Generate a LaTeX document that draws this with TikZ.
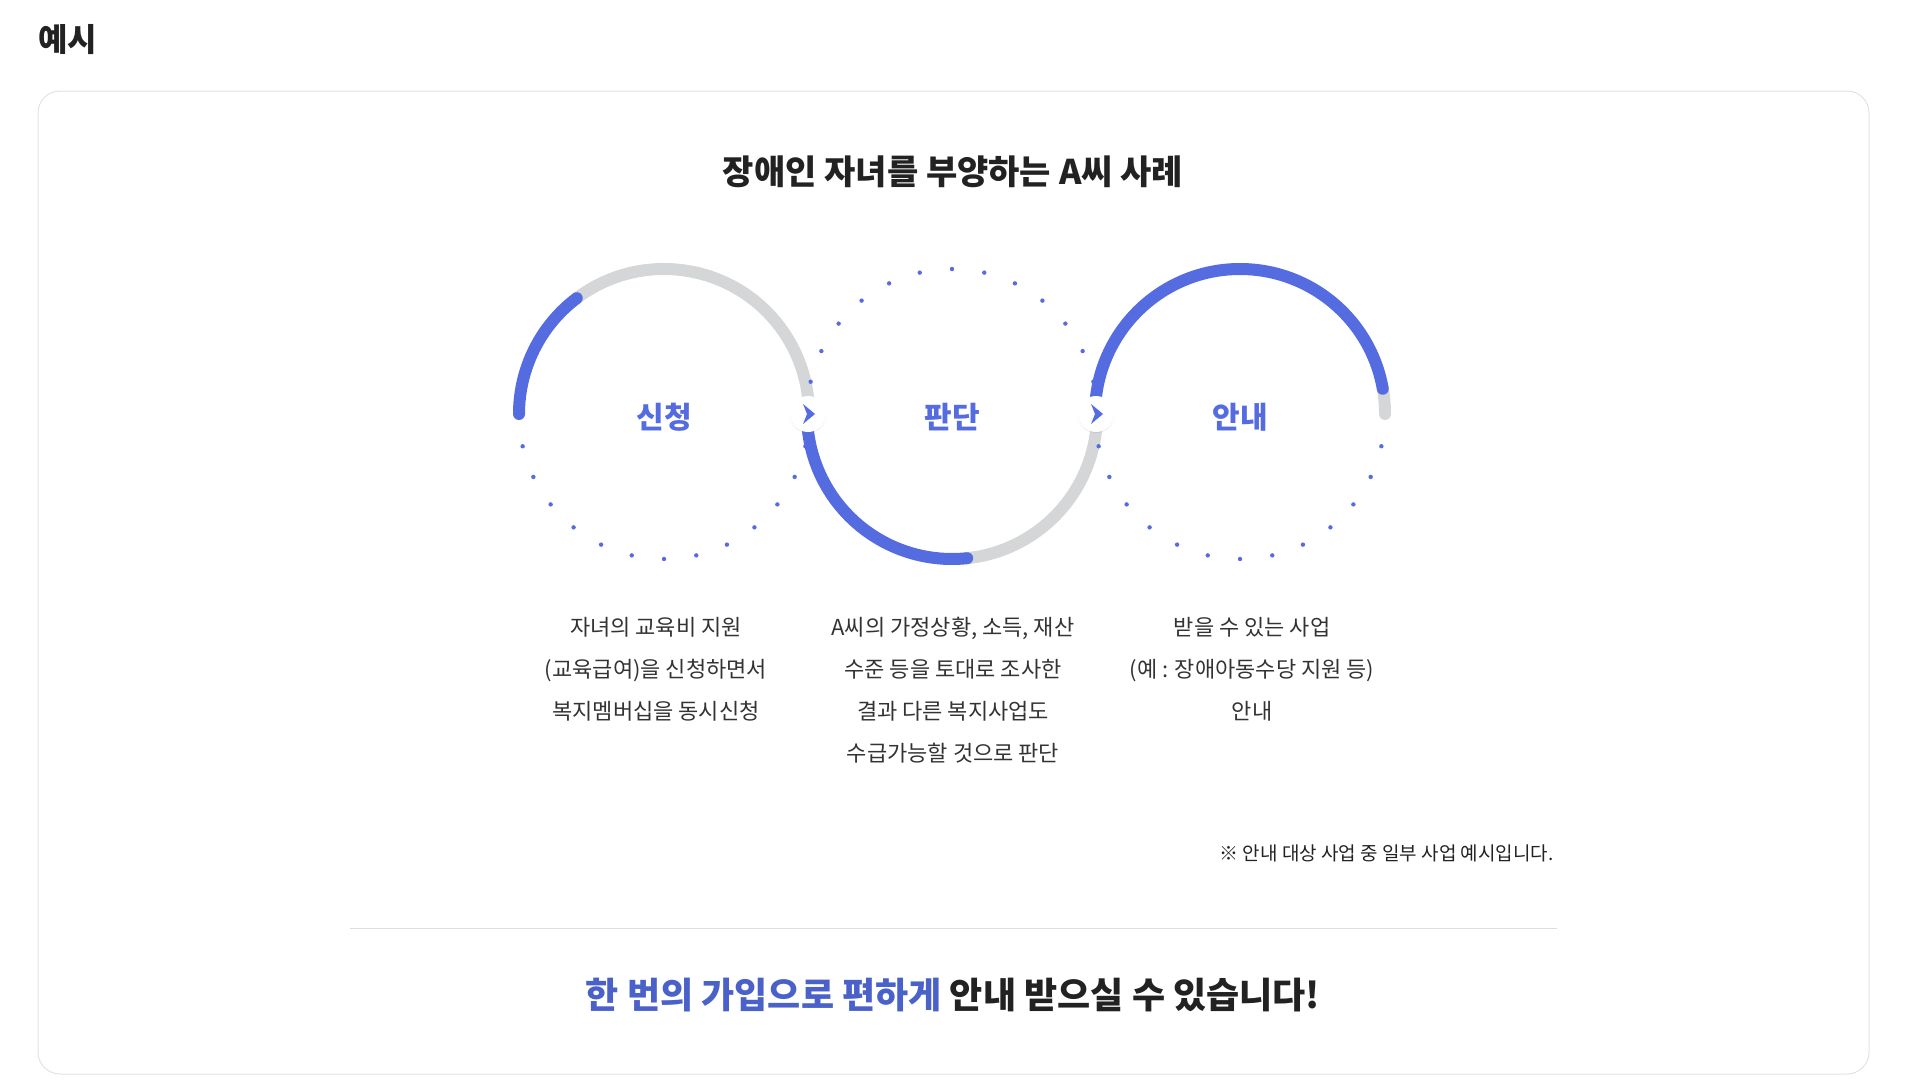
\documentclass[tikz,border=0pt]{standalone}
\usepackage{fontspec}
\setmainfont{Noto Sans CJK KR}
\usetikzlibrary{shadows}
\definecolor{blu}{RGB}{84,108,224}
\definecolor{gry}{RGB}{213,214,216}
\definecolor{txt}{RGB}{51,51,51}
\definecolor{hd}{RGB}{34,34,34}
\tikzset{
  prog/.style={line width=12pt,line cap=round,blu},
  rest/.style={line width=12pt,line cap=round,gry},
  lbl/.style={font=\fontsize{30}{36}\selectfont\bfseries,text=blu},
  desc/.style={font=\fontsize{22}{42}\selectfont,text=txt,align=center,anchor=north},
  badge/.style={circle,fill=white,minimum size=36pt,inner sep=0pt,drop shadow={opacity=0.15,shadow xshift=0pt,shadow yshift=-1pt}},
}
\newcommand{\dotsarc}[3]{\foreach \k in {1,...,13}{\fill[blu] ($(#1)+({#2+\k*12.857*#3}:145)$) circle (2.2pt);}}
\usetikzlibrary{calc}
\begin{document}
\begin{tikzpicture}[x=1pt,y=-1pt]
\useasboundingbox (0,0) rectangle (1912,1081);
\node[font=\fontsize{32}{38}\selectfont\bfseries,text=hd] (t) at (68,40) {예시};
\draw[gry!70,line width=1pt,rounded corners=22pt] (38,91) rectangle (1869,1074);
\node[font=\fontsize{34}{40}\selectfont\bfseries,text=hd] (h) at (953,172) {장애인 자녀를 부양하는 A씨 사례};
\coordinate (c1) at (664,414);
\coordinate (c2) at (952,414);
\coordinate (c3) at (1240,414);
% circle 1
\draw[rest] (c1) ++(233:145) arc (233:360:145);
\draw[prog] (c1) ++(180:145) arc (180:233:145);
\foreach \k in {1,...,13}{\fill[blu] ($(c1)+({\k*12.857}:145)$) circle (2.2pt);}
% circle 2
\draw[rest] (c2) ++(84:145) arc (84:0:145);
\draw[prog] (c2) ++(180:145) arc (180:84:145);
\foreach \k in {1,...,13}{\fill[blu] ($(c2)+({180+\k*12.857}:145)$) circle (2.2pt);}
% circle 3
\draw[rest] (c3) ++(350:145) arc (350:360:145);
\draw[prog] (c3) ++(180:145) arc (180:350:145);
\foreach \k in {1,...,13}{\fill[blu] ($(c3)+({\k*12.857}:145)$) circle (2.2pt);}
% badges
\node[badge] (b1) at (808,414) {};
\node[badge] (b2) at (1096,414) {};
\foreach \b in {b1,b2}{\fill[blu] ($(\b)+(-5,-10)$) -- ($(\b)+(7,0)$) -- ($(\b)+(-5,10)$) -- ($(\b)+(-1,0)$) -- cycle;}
\node[lbl] (l1) at (c1) [yshift=-3pt] {신청};
\node[lbl] (l2) at (c2) [yshift=-3pt] {판단};
\node[lbl] (l3) at (c3) [yshift=-3pt] {안내};
\node[desc] (d1) at (656,614) {자녀의 교육비 지원\\(교육급여)을 신청하면서\\복지멤버십을 동시신청};
\node[desc] (d2) at (953,614) {A씨의 가정상황, 소득, 재산\\수준 등을 토대로 조사한\\결과 다른 복지사업도\\수급가능할 것으로 판단};
\node[desc] (d3) at (1252,614) {받을 수 있는 사업\\(예 : 장애아동수당 지원 등)\\안내};
\node[font=\fontsize{19}{24}\selectfont,text=hd,anchor=east] (n) at (1557,853) {※ 안내 대상 사업 중 일부 사업 예시입니다.};
\draw[gry!80,line width=1pt] (350,928) -- (1557,928);
\node[font=\fontsize{36}{44}\selectfont\bfseries,text=hd] (f) at (953,995) {\textcolor{blu!90!black}{한 번의 가입으로 편하게} 안내 받으실 수 있습니다!};
\end{tikzpicture}
\end{document}
